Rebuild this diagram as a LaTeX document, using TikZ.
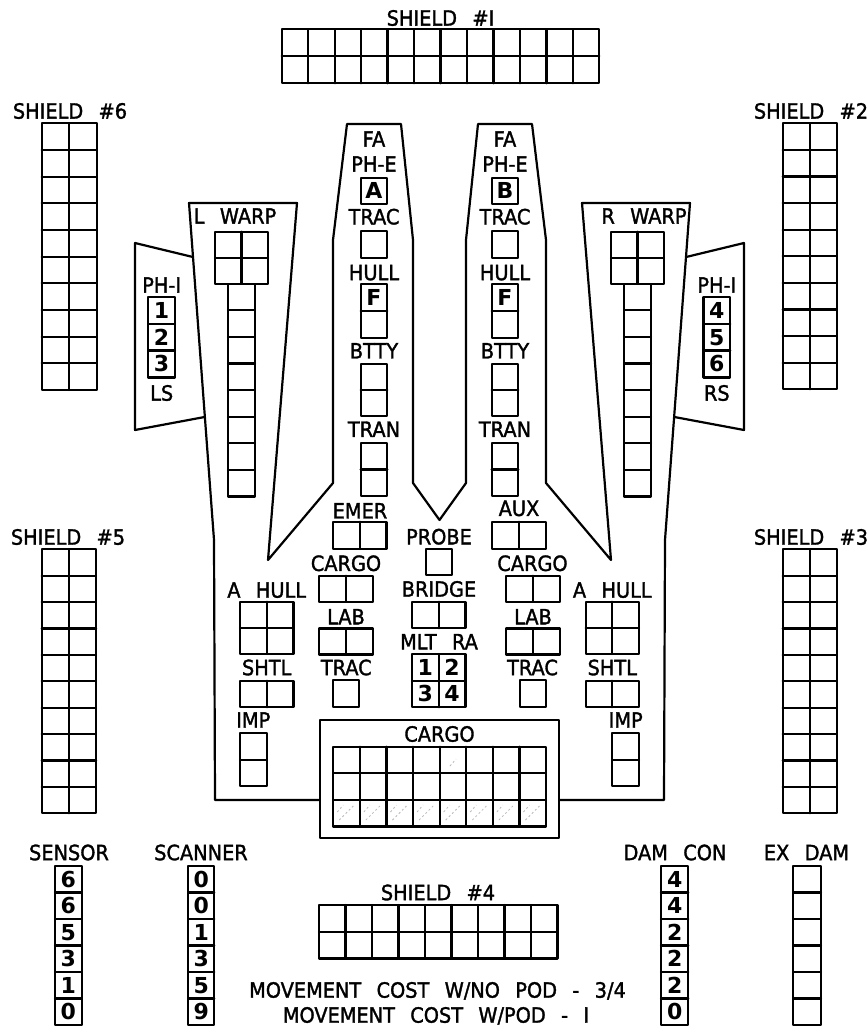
\documentclass[tikz,border=0pt]{standalone}
\usepackage{fontspec}
\setmainfont{DejaVu Sans}
\newfontfamily\lblfont{DejaVu Sans}[WordSpace=2.5,FakeBold=1.5,FakeStretch=0.92]
\tikzset{
  ln/.style={line width=2.2pt, line join=round, line cap=round},
  lbl/.style={inner sep=0pt, font=\lblfont\fontsize{21}{21}\selectfont, text height=15.3pt, text depth=0pt},
  dig/.style={inner sep=0pt, font=\fontsize{22}{22}\selectfont\bfseries, text height=16pt, text depth=0pt},
  hatch/.style={gray!55, line width=0.8pt, dash pattern=on 2pt off 2.5pt},
}
\newcommand\gridbox[6]{%
  \draw[ln] (#1,#2) rectangle ++({#3*#5},{#4*#6});
  \ifnum#3>1 \foreach \i in {2,...,#3}{\draw[ln] ({#1+(\i-1)*#5},#2) -- ++(0,{#4*#6});}\fi
  \ifnum#4>1 \foreach \j in {2,...,#4}{\draw[ln] (#1,{#2+(\j-1)*#6}) -- ++({#3*#5},0);}\fi
}
\begin{document}
\begin{tikzpicture}[x=1pt,y=-1pt]
\useasboundingbox (0,0) rectangle (867,1026);
\fill[white] (0,0) rectangle (867,1026);

% ---------- hull outline ----------
\draw[ln] (215,800) -- (214,540) -- (189,203) -- (297,203) -- (268,560) -- (333,483)
  -- (333,240) -- (347,124) -- (401,124) -- (413,240) -- (413,483) -- (439.5,520)
  -- (466,483) -- (466,240) -- (478,124) -- (532,124) -- (546,240) -- (546,483)
  -- (611,560) -- (582,203) -- (690,203) -- (665,540) -- (664,800) -- cycle;
% PH-I side panels
\draw[ln] (192.9,257) -- (135,243) -- (135,430) -- (204.6,417);
\draw[ln] (686.1,257) -- (744,243) -- (744,430) -- (674.4,417);

% ---------- shields ----------
\node[lbl] (s1) at (440.5,18) {SHIELD \#I};
\gridbox{281.7}{29.3}{12}{2}{26.47}{27}
\node[lbl] (s6) at (70,111) {SHIELD \#6};
\gridbox{41.7}{123.3}{2}{10}{27.5}{26.67}
\node[lbl] (s2) at (811,111) {SHIELD \#2};
\gridbox{782.7}{123.3}{2}{10}{27}{26.6}
\node[lbl] (s5) at (68,537) {SHIELD \#5};
\gridbox{41.7}{549.3}{2}{10}{27.2}{26.4}
\node[lbl] (s3) at (811,537) {SHIELD \#3};
\gridbox{782.7}{549.3}{2}{10}{27}{26.4}
\node[lbl] (s4) at (438,892.5) {SHIELD \#4};
\gridbox{319}{905}{9}{2}{26.5}{26.7}

% ---------- PH-I ----------
\node[lbl] (phl) at (161.7,285) {PH-I};
\gridbox{148.3}{296.7}{1}{3}{26.7}{26.9}
\foreach \d [count=\k from 0] in {1,2,3} \node[dig] (pl\k) at (161.65,{310.15+\k*26.9}) {\d};
\node[lbl] (ls) at (161.7,393) {LS};
\node[lbl] (phr) at (716.8,285) {PH-I};
\gridbox{703.5}{296.7}{1}{3}{26.7}{26.9}
\foreach \d [count=\k from 0] in {4,5,6} \node[dig] (pr\k) at (716.85,{310.15+\k*26.9}) {\d};
\node[lbl] (rs) at (716.8,393) {RS};

% ---------- warps ----------
\node[lbl] (lw) at (235,216) {L WARP};
\gridbox{215}{231.7}{2}{2}{26.5}{26}
\gridbox{228}{283.7}{1}{8}{27}{26.6}
\node[lbl] (rw) at (644,216) {R WARP};
\gridbox{611}{231.7}{2}{2}{26.5}{26}
\gridbox{624}{283.7}{1}{8}{27}{26.6}

% ---------- FA columns ----------
\foreach \c/\l/\n in {374/A/a, 505/B/b}{
  \node[lbl] (fa\n) at (\c,139) {FA};
  \node[lbl] (phe\n) at (\c,164) {PH-E};
  \gridbox{\c-13.35}{177.7}{1}{1}{26.7}{26.3}
  \node[dig] (ph\n) at (\c,190.85) {\l};
  \node[lbl] (tr\n) at (\c,216.7) {TRAC};
  \gridbox{\c-13.35}{231}{1}{1}{26.7}{26.7}
  \node[lbl] (hu\n) at (\c,272.5) {HULL};
  \gridbox{\c-13.35}{284}{1}{2}{26.7}{26.8}
  \node[dig] (f\n) at (\c,297.4) {F};
  \node[lbl] (bt\n) at (\c,350.8) {BTTY};
  \gridbox{\c-13.35}{364}{1}{2}{26.7}{26}
  \node[lbl] (tn\n) at (\c,429.2) {TRAN};
  \gridbox{\c-13.35}{443.3}{1}{2}{26.7}{26.2}
}

% ---------- left lower ----------
\node[lbl] (emer) at (360,510.8) {EMER};
\gridbox{333}{521.7}{2}{1}{26.7}{27.3}
\node[lbl] (cgl) at (346,563.3) {CARGO};
\gridbox{319.3}{575.7}{2}{1}{26.7}{26}
\node[lbl] (labl) at (346,616.7) {LAB};
\gridbox{319.3}{628.5}{2}{1}{26.7}{26}
\node[lbl] (trl) at (346.3,667.5) {TRAC};
\gridbox{333.3}{680}{1}{1}{26}{26.7}
\node[lbl] (ahl) at (266.7,590) {A HULL};
\gridbox{240}{601.7}{2}{2}{26.7}{26.2}
\node[lbl] (shl) at (266.7,667.5) {SHTL};
\gridbox{240}{680.7}{2}{1}{26.7}{26.6}
\node[lbl] (impl) at (253.3,720) {IMP};
\gridbox{240}{733}{1}{2}{26.7}{26.6}

% ---------- right lower ----------
\node[lbl] (aux) at (519,508.3) {AUX};
\gridbox{492.3}{521.7}{2}{1}{26.7}{27.3}
\node[lbl] (cgr) at (532.5,563.3) {CARGO};
\gridbox{506.3}{575.7}{2}{1}{26.7}{26}
\node[lbl] (labr) at (533,616.7) {LAB};
\gridbox{506.3}{628.5}{2}{1}{26.7}{26}
\node[lbl] (trr) at (532.5,667.5) {TRAC};
\gridbox{519.7}{680}{1}{1}{26}{26.7}
\node[lbl] (ahr) at (612.3,590) {A HULL};
\gridbox{585.6}{601.7}{2}{2}{26.7}{26.2}
\node[lbl] (shr) at (612.3,667.5) {SHTL};
\gridbox{585.6}{680.7}{2}{1}{26.7}{26.6}
\node[lbl] (impr) at (625.7,720) {IMP};
\gridbox{612.3}{733}{1}{2}{26.7}{26.6}

% ---------- centre ----------
\node[lbl] (probe) at (439,536.7) {PROBE};
\gridbox{426}{549}{1}{1}{26}{26}
\node[lbl] (bridge) at (439,589) {BRIDGE};
\gridbox{412}{601.7}{2}{1}{26.7}{26.6}
\node[lbl] (mlt) at (439,641.7) {MLT RA};
\gridbox{412}{654}{2}{2}{26.7}{26.6}
\node[dig] (m1) at (425.35,667.3) {1};
\node[dig] (m2) at (452.05,667.3) {2};
\node[dig] (m3) at (425.35,693.9) {3};
\node[dig] (m4) at (452.05,693.9) {4};

% ---------- cargo bay ----------
\draw[ln,fill=white] (320,720) rectangle (559,838);
\node[lbl] (cargo) at (439.5,734) {CARGO};
\foreach \k in {0,...,7}{
  \draw[hatch] ({333.3+\k*26.6+6},820) -- ({333.3+\k*26.6+20},806);
  \draw[hatch] ({333.3+\k*26.6+4},812) -- ({333.3+\k*26.6+10},805);
}
\draw[hatch] (450,766) -- (456,759);
\gridbox{333.3}{746.7}{8}{3}{26.6}{26.6}

% ---------- bottom tracks ----------
\node[lbl] (sensor) at (69,852.5) {SENSOR};
\gridbox{55}{866}{1}{6}{26.7}{26.5}
\foreach \d [count=\k from 0] in {6,6,5,3,1,0} \node[dig] (se\k) at (68.35,{879.25+\k*26.5}) {\d};
\node[lbl] (scanner) at (201,852.5) {SCANNER};
\gridbox{188.3}{866}{1}{6}{26}{26.5}
\foreach \d [count=\k from 0] in {0,0,1,3,5,9} \node[dig] (sc\k) at (201.3,{879.25+\k*26.5}) {\d};
\node[lbl] (damcon) at (675,852.5) {DAM CON};
\gridbox{661}{866}{1}{6}{27.3}{26.5}
\foreach \d [count=\k from 0] in {4,4,2,2,2,0} \node[dig] (dc\k) at (674.65,{879.25+\k*26.5}) {\d};
\node[lbl] (exdam) at (806.5,852.5) {EX DAM};
\gridbox{793.3}{866}{1}{6}{27.7}{26.5}

\node[lbl] (mv1) at (437.5,990) {MOVEMENT COST W/NO POD - 3/4};
\node[lbl] (mv2) at (436,1015) {MOVEMENT COST W/POD - I};
\end{tikzpicture}
\end{document}
